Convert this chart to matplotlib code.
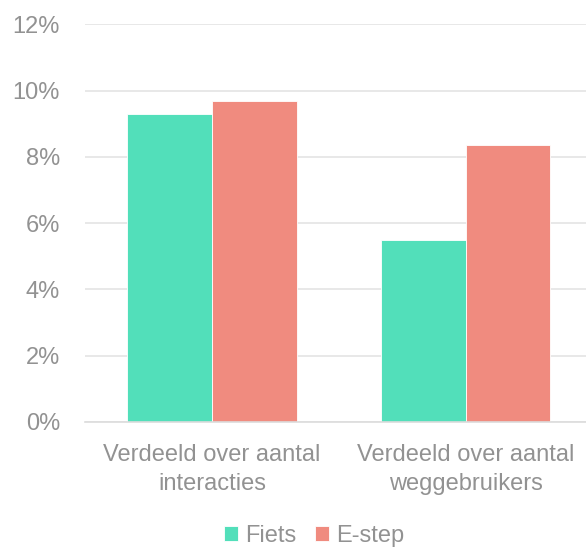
import matplotlib
matplotlib.use("Agg")
import matplotlib.pyplot as plt
import numpy as np

plt.rcParams['font.family'] = ['Liberation Sans', 'DejaVu Sans']

categories = ["Verdeeld over aantal\ninteracties", "Verdeeld over aantal\nweggebruikers"]
series_names = ["Fiets", "E-step"]
fiets = [9.3, 5.5]
estep = [9.7, 8.35]
yticks = [0, 2, 4, 6, 8, 10, 12]

colors = ["#52dfba", "#f08b7f"]
text_color = "#929292"
grid_color = "#e4e4e4"
fs = 17

fig = plt.figure(figsize=(5.86, 5.47), dpi=100)
ax = fig.add_axes([85 / 586, 125 / 547, 507.7 / 586, 397.7 / 547])

x = np.arange(len(categories))
w = 1 / 3
ax.bar(x - w / 2, fiets, width=w, color=colors[0], edgecolor="white",
       linewidth=0.6, label=series_names[0], zorder=3)
ax.bar(x + w / 2, estep, width=w, color=colors[1], edgecolor="white",
       linewidth=0.6, label=series_names[1], zorder=3)

ax.set_xlim(-0.5, 1.5)
ax.set_ylim(0, 12)
ax.set_yticks(yticks)
ax.set_yticklabels([f"{v}%" for v in yticks])
ax.set_xticks(x)
ax.set_xticklabels(categories, linespacing=1.38)

ax.grid(axis="y", color=grid_color, linewidth=1.2, zorder=0)
ax.set_axisbelow(True)
for s in ["top", "right", "left"]:
    ax.spines[s].set_visible(False)
ax.spines["bottom"].set_color("#dcdcdc")
ax.spines["bottom"].set_linewidth(1.2)
ax.spines["bottom"].set_zorder(4)

ax.tick_params(axis="y", length=0, pad=18, labelsize=fs, labelcolor=text_color)
ax.tick_params(axis="x", length=0, pad=16, labelsize=fs, labelcolor=text_color)

leg = fig.legend(loc="center", bbox_to_anchor=(314 / 586, 11 / 547), ncol=2,
                 frameon=False, fontsize=fs, handlelength=0.6, handleheight=0.6,
                 handletextpad=0.3, columnspacing=0.8, borderpad=0,
                 borderaxespad=0)
for t in leg.get_texts():
    t.set_color(text_color)

fig.savefig("out.png", dpi=100)
